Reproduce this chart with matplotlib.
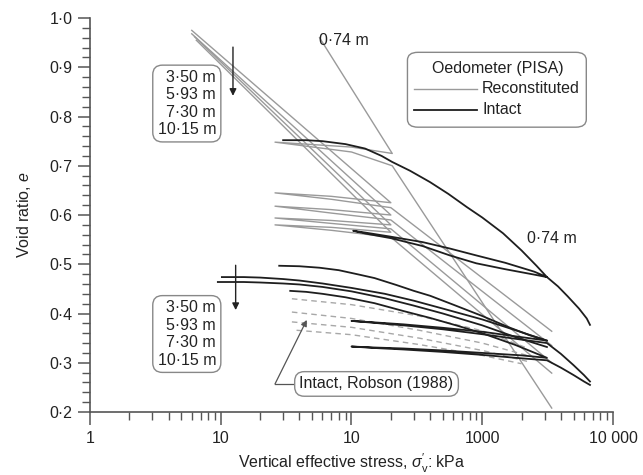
import matplotlib
matplotlib.use("Agg")
import matplotlib.pyplot as plt
from matplotlib.patches import FancyBboxPatch
from matplotlib.ticker import FixedLocator, FixedFormatter, LogLocator, NullFormatter, MultipleLocator

plt.rcParams['font.family'] = ['Liberation Sans', 'DejaVu Sans']
plt.rcParams['mathtext.fontset'] = 'custom'
plt.rcParams['mathtext.rm'] = 'Liberation Sans'
plt.rcParams['mathtext.it'] = 'Liberation Sans:italic'

# ---------------- data ----------------
x_ticks = [1, 10, 100, 1000, 10000]
x_tick_labels = ["1", "10", "10", "1000", "10 000"]
y_ticks = [0.2, 0.3, 0.4, 0.5, 0.6, 0.7, 0.8, 0.9, 1.0]
y_tick_labels = ["0·2", "0·3", "0·4", "0·5", "0·6", "0·7", "0·8", "0·9", "1·0"]

# Reconstituted (PISA)
rec_074_s = [57, 205, 100, 26, 100, 205, 3400]
rec_074_e = [0.96, 0.725, 0.738, 0.748, 0.728, 0.70, 0.208]
rec_350_s = [6.0, 200, 70, 26, 70, 200, 3400]
rec_350_e = [0.975, 0.625, 0.638, 0.645, 0.632, 0.615, 0.364]
rec_593_s = [6.0, 200, 70, 26, 70, 200, 3400]
rec_593_e = [0.968, 0.600, 0.611, 0.618, 0.604, 0.590, 0.335]
rec_730_s = [6.3, 200, 70, 26, 70, 200, 3400]
rec_730_e = [0.962, 0.580, 0.589, 0.594, 0.583, 0.572, 0.300]
rec_1015_s = [6.5, 200, 70, 26, 70, 200, 3400]
rec_1015_e = [0.955, 0.565, 0.575, 0.580, 0.569, 0.555, 0.279]

# Intact (PISA)
int_074_s = [30, 45, 60, 90, 127, 170, 204, 280, 398, 550, 764, 1000, 1442, 2000, 2600, 3126,
             2500, 1500, 900, 565, 350, 200, 130, 103,
             130, 200, 350, 565, 900, 1500, 2500, 3126,
             3800, 4500, 5500, 6300, 6670]
int_074_e = [0.752, 0.752, 0.750, 0.744, 0.735, 0.720, 0.708, 0.690, 0.667, 0.643, 0.616, 0.595,
             0.563, 0.528, 0.497, 0.474,
             0.485, 0.503, 0.518, 0.532, 0.545, 0.556, 0.564, 0.568,
             0.562, 0.553, 0.537, 0.518, 0.502, 0.490, 0.479, 0.474,
             0.455, 0.435, 0.410, 0.390, 0.377]
int_350_s = [28, 40, 57, 80, 110, 150, 220, 300, 400, 600, 1000, 1600, 2300, 3126,
             2000, 1000, 500, 250, 150, 100,
             150, 250, 500, 1000, 2000, 3126,
             4000, 5000, 6000, 6670]
int_350_e = [0.497, 0.496, 0.493, 0.488, 0.480, 0.472, 0.458, 0.446, 0.436, 0.418, 0.395, 0.372,
             0.356, 0.345,
             0.352, 0.363, 0.371, 0.378, 0.382, 0.385,
             0.381, 0.376, 0.368, 0.358, 0.347, 0.340,
             0.318, 0.295, 0.275, 0.262]
int_593_s = [10.2, 15, 20, 30, 40, 60, 100, 180, 300, 500, 1000, 1800, 3126]
int_593_e = [0.474, 0.474, 0.473, 0.470, 0.467, 0.461, 0.452, 0.440, 0.426, 0.410, 0.388, 0.366, 0.345]
int_730_s = [9.5, 15, 20, 30, 40, 60, 100, 180, 300, 500, 1000, 1800, 3126]
int_730_e = [0.464, 0.464, 0.463, 0.461, 0.459, 0.454, 0.445, 0.431, 0.416, 0.400, 0.376, 0.352, 0.332]
int_1015_s = [34, 45, 60, 90, 150, 250, 400, 650, 1000, 1800, 3126,
              2000, 1000, 500, 250, 150, 100,
              150, 250, 500, 1000, 2000, 3126,
              4000, 5000, 6000, 6670]
int_1015_e = [0.446, 0.444, 0.440, 0.433, 0.421, 0.405, 0.391, 0.375, 0.360, 0.336, 0.310,
              0.315, 0.320, 0.325, 0.329, 0.331, 0.333,
              0.330, 0.327, 0.322, 0.316, 0.309, 0.305,
              0.290, 0.275, 0.262, 0.255]

# Intact, Robson (1988)
rob_1_s = [35, 100, 330, 1000, 2200]
rob_1_e = [0.430, 0.418, 0.395, 0.365, 0.330]
rob_2_s = [35, 100, 330, 1000, 2200]
rob_2_e = [0.403, 0.390, 0.366, 0.340, 0.315]
rob_3_s = [35, 100, 330, 1000, 2200]
rob_3_e = [0.383, 0.372, 0.350, 0.325, 0.303]
rob_4_s = [38, 100, 330, 1000, 2000]
rob_4_e = [0.366, 0.357, 0.337, 0.315, 0.298]

# ---------------- figure ----------------
fig = plt.figure(figsize=(6.43, 4.75), dpi=100)
ax = fig.add_axes([0.14, 0.1326, 0.8133, 0.8294])

rec_c = '#9a9a9a'
int_c = '#1e1e1e'
rob_c = '#a8a8a8'
txt_c = '#222222'

for s, e in [(rec_074_s, rec_074_e), (rec_350_s, rec_350_e), (rec_593_s, rec_593_e),
             (rec_730_s, rec_730_e), (rec_1015_s, rec_1015_e)]:
    ax.plot(s, e, color=rec_c, lw=1.0)

for s, e in [(rob_1_s, rob_1_e), (rob_2_s, rob_2_e), (rob_3_s, rob_3_e), (rob_4_s, rob_4_e)]:
    ax.plot(s, e, color=rob_c, lw=1.0, dashes=(4, 3))

for s, e in [(int_074_s, int_074_e), (int_350_s, int_350_e), (int_593_s, int_593_e),
             (int_730_s, int_730_e), (int_1015_s, int_1015_e)]:
    ax.plot(s, e, color=int_c, lw=1.3)

ax.set_xscale('log')
ax.set_xlim(1, 10000)
ax.set_ylim(0.2, 1.0)

ax.xaxis.set_major_locator(FixedLocator(x_ticks))
ax.xaxis.set_major_formatter(FixedFormatter(x_tick_labels))
ax.xaxis.set_minor_locator(LogLocator(base=10, subs=range(2, 10), numticks=20))
ax.xaxis.set_minor_formatter(NullFormatter())
ax.yaxis.set_major_locator(FixedLocator(y_ticks))
ax.yaxis.set_major_formatter(FixedFormatter(y_tick_labels))
ax.yaxis.set_minor_locator(MultipleLocator(0.02))

for sp in ['top', 'right']:
    ax.spines[sp].set_visible(False)
for sp in ['left', 'bottom']:
    ax.spines[sp].set_color('#555555')
    ax.spines[sp].set_linewidth(1.2)

ax.tick_params(axis='both', which='major', direction='out', length=9, width=1.1,
               color='#555555', labelsize=11.5, labelcolor=txt_c)
ax.tick_params(axis='both', which='minor', direction='out', length=5.5, width=1.0, color='#555555')
ax.tick_params(axis='x', which='major', pad=5)

ax.set_ylabel("Void ratio, $e$", fontsize=11.5, color=txt_c, labelpad=12)
ax.set_xlabel(r"Vertical effective stress, $\sigma_{\mathrm{v}}'$: kPa", fontsize=11.5,
              color=txt_c, labelpad=4)

box = dict(boxstyle='round,pad=0.3,rounding_size=0.6', fc='white', ec='#888888', lw=1.0)

# depth boxes
ax.text(0.241, 0.783, "3·50 m\n5·93 m\n7·30 m\n10·15 m", transform=ax.transAxes,
        ha='right', va='center', fontsize=11.5, linespacing=1.2, color=txt_c, bbox=box)
ax.text(0.241, 0.198, "3·50 m\n5·93 m\n7·30 m\n10·15 m", transform=ax.transAxes,
        ha='right', va='center', fontsize=11.5, linespacing=1.2, color=txt_c, bbox=box)

# vertical arrows
ax.annotate("", xy=(12.4, 0.842), xytext=(12.4, 0.941),
            arrowprops=dict(arrowstyle='-|>', color=txt_c, lw=1.0, mutation_scale=10,
                            shrinkA=0, shrinkB=0))
ax.annotate("", xy=(13.0, 0.407), xytext=(13.0, 0.498),
            arrowprops=dict(arrowstyle='-|>', color=txt_c, lw=1.0, mutation_scale=10,
                            shrinkA=0, shrinkB=0))

# 0.74 m labels
ax.text(56, 0.955, "0·74 m", fontsize=11.5, ha='left', va='center', color=txt_c)
ax.text(2200, 0.553, "0·74 m", fontsize=11.5, ha='left', va='center', color=txt_c)

# Robson label with arrow
ax.text(40, 0.257, "Intact, Robson (1988)", fontsize=11.5, ha='left', va='center', color=txt_c,
        bbox=dict(boxstyle='round,pad=0.3,rounding_size=0.6', fc='white', ec='#888888', lw=1.0))
ax.plot([36, 26], [0.257, 0.257], color='#555555', lw=0.9)
ax.annotate("", xy=(45.5, 0.387), xytext=(26, 0.257),
            arrowprops=dict(arrowstyle='-|>', color='#555555', lw=0.9, mutation_scale=9,
                            shrinkA=0, shrinkB=0))

# legend box
ax.add_patch(FancyBboxPatch((0.607, 0.723), 0.342, 0.19,
             boxstyle='round,pad=0,rounding_size=0.02', transform=ax.transAxes,
             fc='white', ec='#888888', lw=1.0, zorder=5))
ax.text(0.78, 0.873, "Oedometer (PISA)", transform=ax.transAxes, ha='center', va='center',
        fontsize=11.5, color=txt_c, zorder=6)
ax.plot([0.619, 0.740], [0.820, 0.820], transform=ax.transAxes, color=rec_c, lw=1.0, zorder=6)
ax.text(0.750, 0.820, "Reconstituted", transform=ax.transAxes, ha='left', va='center',
        fontsize=11.5, color=txt_c, zorder=6)
ax.plot([0.619, 0.740], [0.767, 0.767], transform=ax.transAxes, color=int_c, lw=1.3, zorder=6)
ax.text(0.750, 0.767, "Intact", transform=ax.transAxes, ha='left', va='center',
        fontsize=11.5, color=txt_c, zorder=6)

fig.savefig("out.png", dpi=100)
